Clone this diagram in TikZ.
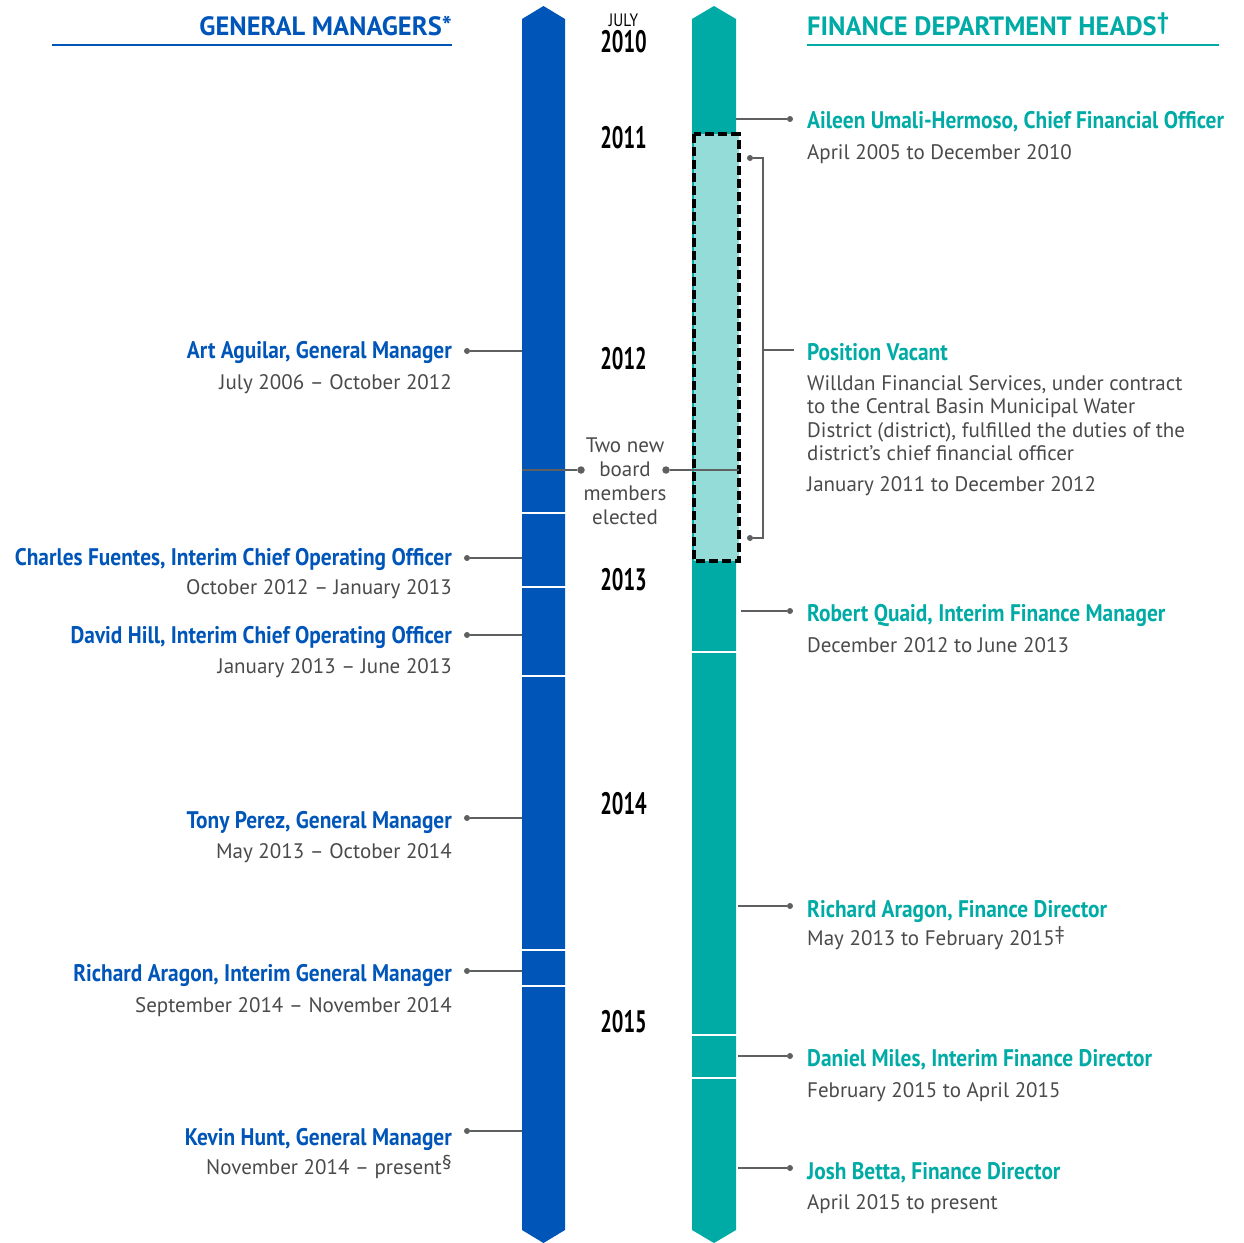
\documentclass[tikz,border=0pt]{standalone}
\usepackage{fontspec}
\setmainfont{PT Sans}
\newfontfamily\namefont[FakeStretch=0.89]{PT Sans Bold}
\newfontfamily\yearfont[FakeStretch=0.66]{PT Sans Bold}
\newfontfamily\julyfont[FakeStretch=0.85]{PT Sans}
\newfontfamily\headfont{PT Sans Bold}
\definecolor{gmblue}{HTML}{0055B8}
\definecolor{fdteal}{HTML}{00ABA6}
\definecolor{lightteal}{HTML}{94DCD8}
\definecolor{txtgray}{HTML}{4A4A4C}
\definecolor{linegray}{HTML}{5E5F61}
\newcommand{\supmark}[2][20]{\raisebox{0.45ex}{\fontsize{#1}{#1}\selectfont #2}}
\begin{document}
\begin{tikzpicture}[x=1pt,y=-1pt,
  gmname/.style={font=\namefont\fontsize{24}{28}\selectfont, text=gmblue, anchor=base east, inner sep=0pt},
  fdname/.style={font=\namefont\fontsize{24}{28}\selectfont, text=fdteal, anchor=base west, inner sep=0pt},
  gmdate/.style={font=\fontsize{21}{25}\selectfont, text=txtgray, anchor=base east, inner sep=0pt},
  fddate/.style={font=\fontsize{21}{25}\selectfont, text=txtgray, anchor=base west, inner sep=0pt},
  yearlbl/.style={font=\yearfont\fontsize{31}{31}\selectfont, text=black, anchor=base, inner sep=0pt},
  board/.style={font=\fontsize{21}{25}\selectfont, text=txtgray, anchor=base, inner sep=0pt},
  dotnode/.style={circle, fill=linegray, inner sep=0pt, minimum size=6pt},
  bigdot/.style={circle, fill=linegray, inner sep=0pt, minimum size=7.5pt},
  leader/.style={draw=linegray, line width=1.3pt},
  gapline/.style={draw=white, line width=2.5pt}
]
\useasboundingbox (0,0) rectangle (1243,1243);

% headers
\node[font=\headfont\fontsize{26.5}{29}\selectfont, text=gmblue, anchor=base east, inner sep=0pt] (gmhead) at (452,35) {GENERAL MANAGERS*};
\draw[gmblue, line width=2.5pt] (52,45) -- (452,45);
\node[font=\headfont\fontsize{26.5}{29}\selectfont, text=fdteal, anchor=base west, inner sep=0pt] (fdhead) at (807,35) {FINANCE DEPARTMENT HEADS\supmark[24]{†}};
\draw[fdteal, line width=2.5pt] (807,45) -- (1219,45);

% bars
\fill[gmblue] (522,19) -- (543.5,6) -- (565,19) -- (565,1230) -- (543.5,1243) -- (522,1230) -- cycle;
\fill[fdteal] (692,19) -- (714,6) -- (736,19) -- (736,1230) -- (714,1243) -- (692,1230) -- cycle;
\foreach \g in {513,587,676,950,986} \draw[gapline] (521,\g) -- (566,\g);
\foreach \g in {652,1035,1078} \draw[gapline] (691,\g) -- (737,\g);
\draw[fill=lightteal, draw=black, line width=4pt, dash pattern=on 9pt off 4pt] (694,134) rectangle (738.5,561);

% years
\node[font=\julyfont\fontsize{18}{18}\selectfont, anchor=base, inner sep=0pt] (july) at (623.5,26) {JULY};
\node[yearlbl] (y2010) at (623.5,52) {2010};
\node[yearlbl] (y2011) at (623.5,148) {2011};
\node[yearlbl] (y2012) at (623.5,369) {2012};
\node[yearlbl] (y2013) at (623.5,590) {2013};
\node[yearlbl] (y2014) at (623.5,814) {2014};
\node[yearlbl] (y2015) at (623.5,1032) {2015};

% board members
\node[board] (b1) at (625,452) {Two new};
\node[board] (b2) at (625,476) {board};
\node[board] (b3) at (625,500) {members};
\node[board] (b4) at (625,524) {elected};
\coordinate (bl) at (522,470);
\coordinate (br) at (739,470);
\node[bigdot] (bdl) at (581,470) {};
\node[bigdot] (bdr) at (666,470) {};
\draw[linegray, line width=2.7pt] (bl) -- (bdl);
\draw[linegray, line width=2.7pt] (bdr) -- (br);

% left: general managers
\node[gmname] (n1) at (452,358) {Art Aguilar, General Manager};
\node[gmdate] (d1) at (452,389) {July 2006 – October 2012};
\node[dotnode] (p1) at (467,351) {}; \coordinate (c1) at (522,351);
\draw[leader] (p1) -- (c1);

\node[gmname] (n2) at (452,565) {Charles Fuentes, Interim Chief Operating Officer};
\node[gmdate] (d2) at (452,594) {October 2012 – January 2013};
\node[dotnode] (p2) at (467,558) {}; \coordinate (c2) at (522,558);
\draw[leader] (p2) -- (c2);

\node[gmname] (n3) at (452,643) {David Hill, Interim Chief Operating Officer};
\node[gmdate] (d3) at (452,673) {January 2013 – June 2013};
\node[dotnode] (p3) at (467,635) {}; \coordinate (c3) at (522,635);
\draw[leader] (p3) -- (c3);

\node[gmname] (n4) at (452,828) {Tony Perez, General Manager};
\node[gmdate] (d4) at (452,858) {May 2013 – October 2014};
\node[dotnode] (p4) at (467,818) {}; \coordinate (c4) at (522,818);
\draw[leader] (p4) -- (c4);

\node[gmname] (n5) at (452,981) {Richard Aragon, Interim General Manager};
\node[gmdate] (d5) at (452,1012) {September 2014 – November 2014};
\node[dotnode] (p5) at (467,971) {}; \coordinate (c5) at (522,971);
\draw[leader] (p5) -- (c5);

\node[gmname] (n6) at (452,1145) {Kevin Hunt, General Manager};
\node[gmdate] (d6) at (452,1174) {November 2014 – present\supmark{§}};
\node[dotnode] (p6) at (467,1131) {}; \coordinate (c6) at (522,1131);
\draw[leader] (p6) -- (c6);

% right: finance heads
\node[fdname] (f1) at (807,128) {Aileen Umali-Hermoso, Chief Financial Officer};
\node[fddate] (e1) at (807,159) {April 2005 to December 2010};
\node[dotnode] (q1) at (790,119) {}; \coordinate (r1) at (736,119);
\draw[leader] (r1) -- (q1);

% bracket for vacancy
\node[dotnode] (qt) at (750,158) {};
\node[dotnode] (qb) at (750,538) {};
\coordinate (kt) at (763,158);
\coordinate (kb) at (763,538);
\coordinate (km) at (763,350);
\coordinate (kr) at (794,350);
\draw[leader, line width=1.1pt] (qt) -- (kt) -- (kb) -- (qb);
\draw[leader, line width=1.1pt] (km) -- (kr);
\node[fdname] (f2) at (807,360) {Position Vacant};
\node[fddate] (e2a) at (807,390) {Willdan Financial Services, under contract};
\node[fddate] (e2b) at (807,413) {to the Central Basin Municipal Water};
\node[fddate] (e2c) at (807,437) {District (district), fulfilled the duties of the};
\node[fddate] (e2d) at (807,460) {district’s chief financial officer};
\node[fddate] (e2) at (807,491) {January 2011 to December 2012};

\node[fdname] (f3) at (807,621) {Robert Quaid, Interim Finance Manager};
\node[fddate] (e3) at (807,652) {December 2012 to June 2013};
\node[dotnode] (q3) at (790,611) {}; \coordinate (r3) at (741,611);
\draw[leader] (r3) -- (q3);

\node[fdname] (f4) at (807,917) {Richard Aragon, Finance Director};
\node[fddate] (e4) at (807,945) {May 2013 to February 2015\supmark{‡}};
\node[dotnode] (q4) at (790,906) {}; \coordinate (r4) at (738,906);
\draw[leader] (r4) -- (q4);

\node[fdname] (f5) at (807,1066) {Daniel Miles, Interim Finance Director};
\node[fddate] (e5) at (807,1097) {February 2015 to April 2015};
\node[dotnode] (q5) at (790,1056) {}; \coordinate (r5) at (738,1056);
\draw[leader] (r5) -- (q5);

\node[fdname] (f6) at (807,1179) {Josh Betta, Finance Director};
\node[fddate] (e6) at (807,1209) {April 2015 to present};
\node[dotnode] (q6) at (790,1168) {}; \coordinate (r6) at (738,1168);
\draw[leader] (r6) -- (q6);
\end{tikzpicture}
\end{document}
